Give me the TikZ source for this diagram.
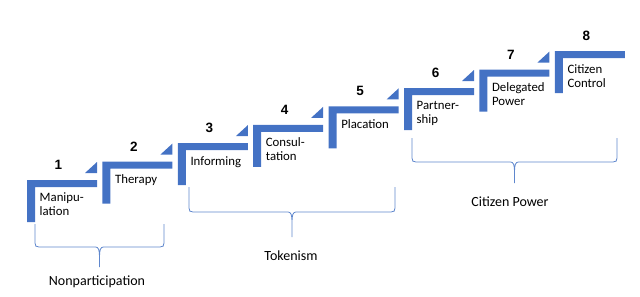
\documentclass[tikz,border=0pt]{standalone}
\usepackage{fontspec}
\setmainfont{Carlito}
\newfontfamily\numfont{Liberation Sans}
\definecolor{stepblue}{RGB}{68,114,196}
\definecolor{bracecol}{RGB}{95,135,205}
\newcommand\mybrace[5]{% x1 x2 ytop yh ytip
  \pgfmathsetmacro\bxm{(#1+#2)/2}
  \draw[bracestyle] (#1,#3) -- (#1,#4-4) .. controls (#1,#4-1) and (#1+1,#4) .. (#1+4,#4)
     -- (\bxm-4,#4) .. controls (\bxm-1,#4) and (\bxm,#4+3) .. (\bxm,#4+10) -- (\bxm,#5)
     (#2,#3) -- (#2,#4-4) .. controls (#2,#4-1) and (#2-1,#4) .. (#2-4,#4)
     -- (\bxm+4,#4) .. controls (\bxm+1,#4) and (\bxm,#4+3) .. (\bxm,#4+10);
}
\begin{document}
\begin{tikzpicture}[x=1pt,y=-1pt,
  stepfill/.style={fill=stepblue},
  stepnum/.style={font=\numfont\bfseries\fontsize{13.5}{14}\selectfont, inner sep=0, anchor=base},
  steplabel/.style={font=\fontsize{12.8}{14}\selectfont, inner sep=0, anchor=base west, text width=64pt, align=left},
  bracestyle/.style={draw=bracecol, line width=0.8pt},
  grouplabel/.style={font=\fontsize{14}{16}\selectfont, inner sep=0, anchor=base}]
\useasboundingbox (0,0) rectangle (640,297);
\foreach \i/\num/\txt in {0/1/{Manipu-\\lation},1/2/{Therapy},2/3/{Informing},3/4/{Consul-\\tation},4/5/{Placation},5/6/{Partner-\\ship},6/7/{Delegated\\Power},7/8/{Citizen\\Control}}{
  \pgfmathsetmacro\xx{27+75.4*\i}
  \pgfmathsetmacro\yy{180-18.4*\i}
  \fill[stepfill] (\xx,\yy) -- ++(70,0) -- ++(0,7) -- ++(-62,0) -- ++(0,35) -- ++(-8,0) -- cycle;
  \ifnum\i<7
    \fill[stepfill] (\xx+58,\yy-7) -- (\xx+70,\yy-7) -- (\xx+70,\yy-18) -- cycle;
  \fi
  \node[stepnum] (n\num) at (\xx+31.5,\yy-10.5) {\num};
  \node[steplabel] (l\num) at (\xx+12.5,\yy+21.8) {\txt};
}
\mybrace{35}{164}{224}{247}{267}
\mybrace{189}{395}{187}{212}{237}
\mybrace{412}{617}{138}{162}{183}
\node[grouplabel] (g1) at (97,285.7) {Nonparticipation};
\node[grouplabel] (g2) at (291,260) {Tokenism};
\node[grouplabel] (g3) at (510,206) {Citizen Power};
\end{tikzpicture}
\end{document}
